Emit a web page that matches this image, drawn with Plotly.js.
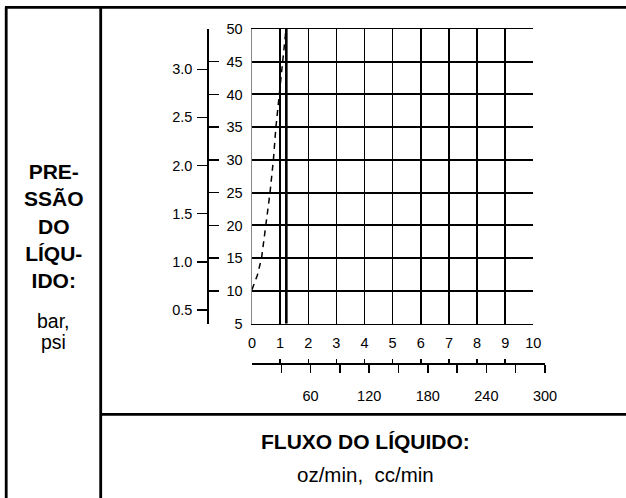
<!DOCTYPE html>
<html>
<head>
<meta charset="utf-8">
<script src="https://cdn.plot.ly/plotly-3.0.1.min.js"></script>
<style>html,body{margin:0;padding:0;background:#fff;}#chart{width:626px;height:498px;}</style>
</head>
<body>
<div id="chart"></div>
<script>
// ---- data ----
const ozTicks = [0, 1, 2, 3, 4, 5, 6, 7, 8, 9, 10];
const psiTicks = [5, 10, 15, 20, 25, 30, 35, 40, 45, 50];
const barTickVals = [0.5, 1.0, 1.5, 2.0, 2.5, 3.0];
const barTickText = ['0.5', '1.0', '1.5', '2.0', '2.5', '3.0'];
const ccTickVals = [30, 60, 90, 120, 150, 180, 210, 240, 270, 300];
const ccTickText = ['', '60', '', '120', '', '180', '', '240', '', '300'];
// dashed curve: fluid flow (oz/min) vs fluid pressure (psi)
const curveFlowOz = [0.0, 0.19, 0.34, 0.50, 0.64, 0.76, 0.85, 0.97, 1.09, 1.16, 1.21];
const curvePressurePsi = [10.2, 12.4, 15, 20, 25, 30, 35, 40, 45, 47.5, 50];
// bold vertical line: maximum flow
const maxFlowX = [1.22, 1.22];
const maxFlowY = [5, 50];

// ---- layout helpers (pixel -> paper) ----
const W = 626, H = 498;
const px = v => v / W;
const py = v => 1 - v / H;

const FONT = '"Liberation Sans", Arial, Helvetica, sans-serif';
const plotL = 252, plotR = 533.3, plotT = 29, plotB = 323.7;
const scaleY = 364.3;

const traces = [
  {x: curveFlowOz, y: curvePressurePsi, type: 'scatter', mode: 'lines',
   line: {color: '#000', width: 1.5, dash: '6px,5px'}, hoverinfo: 'skip', showlegend: false},
  {x: maxFlowX, y: maxFlowY, type: 'scatter', mode: 'lines',
   line: {color: '#000', width: 2.6}, hoverinfo: 'skip', showlegend: false},
  {x: [], y: [], xaxis: 'x2', yaxis: 'y4', type: 'scatter', showlegend: false, hoverinfo: 'skip'},
  {x: [], y: [], xaxis: 'x3', yaxis: 'y', type: 'scatter', showlegend: false, hoverinfo: 'skip'},
  {x: [], y: [], xaxis: 'x', yaxis: 'y2', type: 'scatter', showlegend: false, hoverinfo: 'skip'},
  {x: [], y: [], xaxis: 'x', yaxis: 'y3', type: 'scatter', showlegend: false, hoverinfo: 'skip'}
];

const tickFont = {family: FONT, size: 14.5, color: '#000'};

const layout = {
  width: W, height: H,
  margin: {l: 0, r: 0, t: 0, b: 0, pad: 0},
  paper_bgcolor: '#fff', plot_bgcolor: 'rgba(0,0,0,0)',
  showlegend: false,
  xaxis: {
    domain: [px(plotL), px(plotR)], range: [0, 10], anchor: 'y',
    tickvals: ozTicks, ticktext: ozTicks.map(String), ticks: '',
    showgrid: true, gridcolor: '#000', gridwidth: 1.5, zeroline: false,
    showline: true, linecolor: '#000', linewidth: 1.5, mirror: true,
    tickfont: tickFont, ticklabelstandoff: 5, fixedrange: true
  },
  yaxis: {
    domain: [py(plotB), py(plotT)], range: [5, 50], anchor: 'x',
    tickvals: psiTicks, ticktext: psiTicks.map(String), ticks: '',
    showgrid: true, gridcolor: '#000', gridwidth: 2, zeroline: false,
    showline: true, linecolor: '#888', linewidth: 1.5, mirror: false,
    tickfont: tickFont, ticklabelstandoff: 5, fixedrange: true
  },
  yaxis2: {
    overlaying: 'y', anchor: 'free', position: px(208.3), side: 'left',
    range: [0.358, 3.418], tickvals: barTickVals, ticktext: barTickText,
    ticks: 'outside', ticklen: 10, tickwidth: 1.5, tickcolor: '#000',
    showline: true, linecolor: '#000', linewidth: 2,
    showgrid: false, zeroline: false, tickfont: tickFont, ticklabelstandoff: 2, fixedrange: true
  },
  yaxis3: {
    overlaying: 'y', anchor: 'free', position: px(208.3), side: 'left',
    range: [5, 50], tickvals: psiTicks, ticks: 'inside', ticklen: 10, tickwidth: 1.5, tickcolor: '#000',
    showticklabels: false, showline: false, showgrid: false, zeroline: false, fixedrange: true
  },
  yaxis4: {
    domain: [py(plotB), py(plotT)], anchor: 'x2', range: [5, 50], visible: false,
    showgrid: false, zeroline: false, showline: false, showticklabels: false, fixedrange: true
  },
  xaxis3: {
    overlaying: 'x', anchor: 'free', position: py(scaleY), side: 'bottom',
    range: [0, 10], tickvals: ozTicks, ticks: 'inside', ticklen: 5.5, tickwidth: 1.5, tickcolor: '#000',
    showticklabels: false, showline: false, showgrid: false, zeroline: false, fixedrange: true
  },
  xaxis2: {
    anchor: 'free', position: py(scaleY), side: 'bottom',
    domain: [px(plotL), px(545)], range: [0, 300],
    tickvals: ccTickVals, ticktext: ccTickText,
    ticks: 'outside', ticklen: 8, tickwidth: 1.5, tickcolor: '#000',
    showline: true, linecolor: '#000', linewidth: 2,
    showgrid: false, zeroline: false, tickfont: tickFont, ticklabelstandoff: 10, fixedrange: true
  },
  shapes: [
    {type: 'line', xref: 'paper', yref: 'paper', x0: px(5), x1: px(626), y0: py(7.3), y1: py(7.3), line: {color: '#000', width: 2.8}},
    {type: 'line', xref: 'paper', yref: 'paper', x0: px(6.2), x1: px(6.2), y0: py(7.3), y1: py(498), line: {color: '#000', width: 2.8}},
    {type: 'line', xref: 'paper', yref: 'paper', x0: px(100.7), x1: px(100.7), y0: py(7.3), y1: py(498), line: {color: '#000', width: 2.8}},
    {type: 'line', xref: 'paper', yref: 'paper', x0: px(100.7), x1: px(626), y0: py(414.3), y1: py(414.3), line: {color: '#000', width: 2.8}}
  ],
  annotations: [
    {xref: 'paper', yref: 'paper', x: px(54), y: py(225.5), xanchor: 'center', yanchor: 'middle',
     text: '<b>PRE-<br>SSÃO<br>DO<br>LÍQU-<br>IDO:</b>', showarrow: false, align: 'center',
     font: {family: FONT, size: 21, color: '#000'}},
    {xref: 'paper', yref: 'paper', x: px(53.5), y: py(321), xanchor: 'center', yanchor: 'middle',
     text: 'bar,', showarrow: false, font: {family: FONT, size: 19.5, color: '#000'}},
    {xref: 'paper', yref: 'paper', x: px(53.5), y: py(341.5), xanchor: 'center', yanchor: 'middle',
     text: 'psi', showarrow: false, font: {family: FONT, size: 19.5, color: '#000'}},
    {xref: 'paper', yref: 'paper', x: px(365.8), y: py(441), xanchor: 'center', yanchor: 'middle',
     text: '<b>FLUXO DO LÍQUIDO:</b>', showarrow: false, font: {family: FONT, size: 21, color: '#000'}},
    {xref: 'paper', yref: 'paper', x: px(365.5), y: py(474), xanchor: 'center', yanchor: 'middle',
     text: 'oz/min,\u00a0 cc/min', showarrow: false, font: {family: FONT, size: 20.5, color: '#000'}}
  ]
};

Plotly.newPlot('chart', traces, layout, {staticPlot: true, displayModeBar: false});
</script>
</body>
</html>
